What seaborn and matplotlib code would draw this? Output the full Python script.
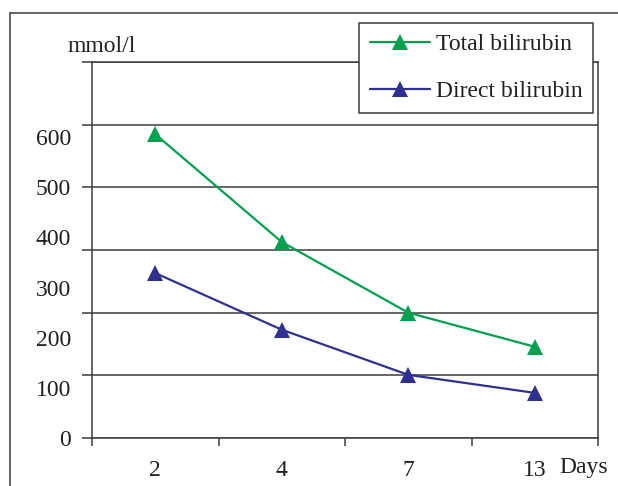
import matplotlib
matplotlib.use("Agg")
import matplotlib.pyplot as plt
import seaborn as sns
import pandas as pd
from matplotlib.lines import Line2D

days = ["2", "4", "7", "13"]
total_bilirubin = [606, 391, 250, 182]
direct_bilirubin = [329, 216, 126, 90]
series_names = ["Total bilirubin", "Direct bilirubin"]
y_tick_labels = [0, 100, 200, 300, 400, 500, 600]
grid_levels = [0, 125, 250, 375, 500, 625, 750]

sns.set_style("white")
plt.rcParams["font.family"] = ["Liberation Serif", "DejaVu Serif"]
TEXT = "#231f20"
LINE = "#3c3c3c"
GREEN = "#00a04f"
NAVY = "#2e3192"
FS = 17

df = pd.DataFrame({
    "day": days * 2,
    "value": total_bilirubin + direct_bilirubin,
    "series": [series_names[0]] * len(days) + [series_names[1]] * len(days),
})

W, H = 618, 486
fig = plt.figure(figsize=(W / 100, H / 100), dpi=100)
ax = fig.add_axes([92 / W, 48 / H, 506 / W, 376 / H])

sns.pointplot(data=df, x="day", y="value", hue="series", order=days,
              hue_order=series_names, palette=[GREEN, NAVY], markers="^",
              errorbar=None, markersize=11.5, linewidth=1.6,
              markeredgewidth=0, ax=ax)

ax.set_xlim(-0.5, len(days) - 0.5)
ax.set_ylim(0, 750)
ax.set_xlabel("")
ax.set_ylabel("")

# y gridlines and tick marks
ax.set_yticks(grid_levels, labels=[""] * len(grid_levels))
ax.tick_params(axis="y", which="major", direction="out", length=7.5,
               width=1.1, color=LINE, left=True)
ax.grid(axis="y", color=LINE, linewidth=1.1)
ax.grid(axis="x", visible=False)
ax.set_axisbelow(True)

# x ticks at category boundaries, labels at centers
ax.set_xticks([i - 0.5 for i in range(len(days) + 1)],
              labels=[""] * (len(days) + 1))
ax.set_xticks(range(len(days)), labels=days, minor=True)
ax.tick_params(axis="x", which="major", direction="out", length=6,
               width=1.1, color=LINE, bottom=True)
ax.tick_params(axis="x", which="minor", length=0, pad=16,
               labelsize=FS, labelcolor=TEXT)

# y tick labels
sec = ax.secondary_yaxis("left")
sec.set_yticks(y_tick_labels)
sec.tick_params(length=0, pad=15, labelsize=FS, labelcolor=TEXT)
sec.spines["left"].set_visible(False)

for s in ax.spines.values():
    s.set_visible(True)
    s.set_color(LINE)
    s.set_linewidth(1.1)

handles, labels = ax.get_legend_handles_labels()
leg = ax.legend(handles, labels, loc="upper right",
                bbox_to_anchor=(593 / W, 1 - 23 / H),
                bbox_transform=fig.transFigure, borderaxespad=0,
                frameon=True, fancybox=False, edgecolor=LINE,
                framealpha=1, fontsize=FS, handlelength=2.55,
                handletextpad=0.25, labelspacing=1.07, borderpad=0.45)
leg.get_frame().set_linewidth(1.1)
for t in leg.get_texts():
    t.set_color(TEXT)

fig.text(68 / W, 1 - 46 / H, "mmol/l", va="center", ha="left",
         fontsize=FS, color=TEXT)
fig.text(559 / W, 1 - 468 / H, "Days", va="center", ha="left",
         fontsize=FS, color=TEXT)

# outer frame (left and top edges)
fig.add_artist(Line2D([10 / W, 10 / W], [0, 1 - 13 / H],
                      transform=fig.transFigure, color=LINE, lw=1.1))
fig.add_artist(Line2D([10 / W, 1], [1 - 13 / H, 1 - 13 / H],
                      transform=fig.transFigure, color=LINE, lw=1.1))

fig.savefig("out.png", dpi=100)
